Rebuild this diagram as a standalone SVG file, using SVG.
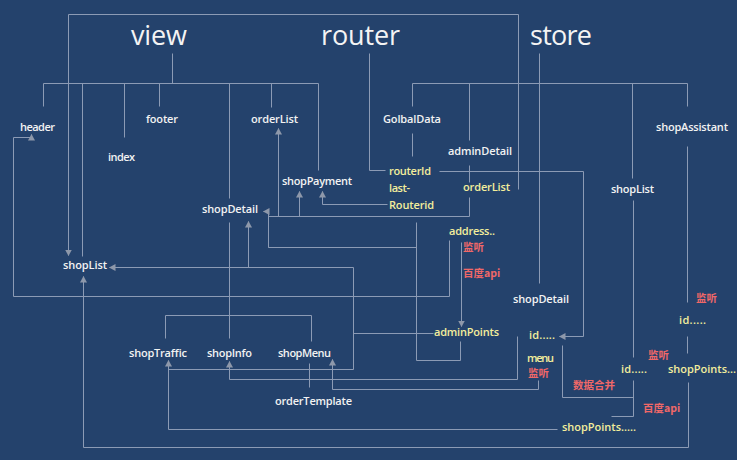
<svg xmlns="http://www.w3.org/2000/svg" width="737" height="460" viewBox="0 0 737 460">
<defs>
<marker id="ar" markerUnits="userSpaceOnUse" markerWidth="7" markerHeight="7" refX="6" refY="3.5" orient="auto" viewBox="0 0 7 7">
<path d="M0,0 L6.5,3.5 L0,7 z" fill="#8e98aa"/>
</marker>
<style>
.c{fill:none;stroke:#8c9bb5;stroke-width:1}
.a{marker-end:url(#ar)}
.t{font-family:"Open Sans","Liberation Sans",sans-serif;font-size:11px;font-weight:600;fill:#f2f2f2}
.y{fill:#f3ee9c}
.r{font-family:"Noto Sans CJK SC",sans-serif;font-size:10.5px;font-weight:700;fill:#f06868}
.h{font-family:"Open Sans","Liberation Sans",sans-serif;font-size:27px;font-weight:500;fill:#f4f4f4}
</style>
</defs>
<rect width="737" height="460" fill="#24426c"/>
<g id="connectors" transform="translate(0.5,0.5)">
<path class="c a" d="M518,189 V14 H68 V255"/>
<path class="c" d="M172,53 V83 M43,83 H318 M43,83 V106 M82,83 V256 M124,83 V137 M159,83 V106 M229,83 V198 M271,83 V107 M318,83 V170"/>
<path class="c" d="M229,222 V338 M165,315 H311 M165,315 V338 M311,315 V341"/>
<path class="c" d="M309,363 V387"/>
<path class="c" d="M369,53 V170 H385"/>
<path class="c" d="M412,83 H687 M412,83 V106 M469,83 V140 M539,53 V283 M632,83 V178 M687,83 V106"/>
<path class="c" d="M412,133 V156"/>
<path class="c" d="M469,165 V182"/>
<path class="c" d="M469,197 V216 H268 V247"/>
<path class="c a" d="M278,216 V128"/>
<path class="c a" d="M299,216 V191"/>
<path class="c a" d="M387,204 H322 V191"/>
<path class="c a" d="M449,240 V296 H13 V137 H31 V134"/>
<path class="c a" d="M461,242 V326"/>
<path class="c" d="M460,341 V360 H416 V222"/>
<path class="c a" d="M416,247 H268 V211 H263"/>
<path class="c" d="M433,333 H353 M353,267 V369 H168"/>
<path class="c a" d="M353,267 H109"/>
<path class="c a" d="M248,267 V221"/>
<path class="c a" d="M557,429 H168 V360"/>
<path class="c a" d="M688,382 V447 H83 V276"/>
<path class="c a" d="M517,336 V379 H229 V361"/>
<path class="c a" d="M538,380 V389 H332 V359"/>
<path class="c a" d="M439,171 H583 V336 H559"/>
<path class="c" d="M562,345 V397 H633"/>
<path class="c" d="M633,380 V416 H611"/>
<path class="c" d="M633,200 V357"/>
<path class="c" d="M687,146 V302 M687,336 V353"/>
</g>
<g id="view"><text class="h" x="131" y="45" textLength="56">view</text></g>
<g id="router"><text class="h" x="321" y="45" textLength="79">router</text></g>
<g id="store"><text class="h" x="530" y="45" textLength="62">store</text></g>
<g id="header"><text class="t" x="20" y="131" textLength="35">header</text></g>
<g id="footer"><text class="t" x="146" y="123" textLength="32">footer</text></g>
<g id="index"><text class="t" x="108" y="161" textLength="27">index</text></g>
<g id="orderList-view"><text class="t" x="251" y="123" textLength="47">orderList</text></g>
<g id="golbalData"><text class="t" x="383" y="123" textLength="58">GolbalData</text></g>
<g id="adminDetail"><text class="t" x="448" y="155" textLength="64">adminDetail</text></g>
<g id="shopAssistant"><text class="t" x="656" y="131" textLength="72">shopAssistant</text></g>
<g id="routerId"><text class="t y" x="389" y="175" textLength="42">routerId</text><text class="t y" x="389" y="192" textLength="21">last-</text><text class="t y" x="389" y="209" textLength="45">Routerid</text></g>
<g id="orderList-router"><text class="t y" x="463" y="191" textLength="47">orderList</text></g>
<g id="shopPayment"><text class="t" x="282" y="185" textLength="70">shopPayment</text></g>
<g id="shopDetail-view"><text class="t" x="202" y="213" textLength="56">shopDetail</text></g>
<g id="address"><text class="t y" x="449" y="235" textLength="46">address..</text><text class="r" x="463" y="251">监听</text><text class="r" x="463" y="277">百度api</text></g>
<g id="shopList-view"><text class="t" x="63" y="269" textLength="44">shopList</text></g>
<g id="shopList-store"><text class="t" x="611" y="193" textLength="43">shopList</text></g>
<g id="shopDetail-store"><text class="t" x="513" y="303" textLength="56">shopDetail</text></g>
<g id="assistant-id"><text class="r" x="696" y="302">监听</text><text class="t y" x="679" y="324" textLength="27">id.....</text></g>
<g id="adminPoints"><text class="t y" x="434" y="336" textLength="65">adminPoints</text></g>
<g id="detail-id"><text class="t y" x="529" y="339" textLength="26">id.....</text><text class="t y" x="527" y="362" textLength="27">menu</text><text class="r" x="528" y="377">监听</text></g>
<g id="shopTraffic"><text class="t" x="129" y="357" textLength="58">shopTraffic</text></g>
<g id="shopInfo"><text class="t" x="207" y="357" textLength="45">shopInfo</text></g>
<g id="shopMenu"><text class="t" x="278" y="357" textLength="53">shopMenu</text></g>
<g id="orderTemplate"><text class="t" x="275" y="405" textLength="77">orderTemplate</text></g>
<g id="list-id"><text class="r" x="648" y="359">监听</text><text class="t y" x="621" y="373" textLength="26">id.....</text><text class="r" x="573" y="389">数据合并</text><text class="r" x="643" y="412">百度api</text></g>
<g id="shopPoints-assistant"><text class="t y" x="668" y="373" textLength="68">shopPoints...</text></g>
<g id="shopPoints"><text class="t y" x="562" y="431" textLength="74">shopPoints.....</text></g>
</svg>
